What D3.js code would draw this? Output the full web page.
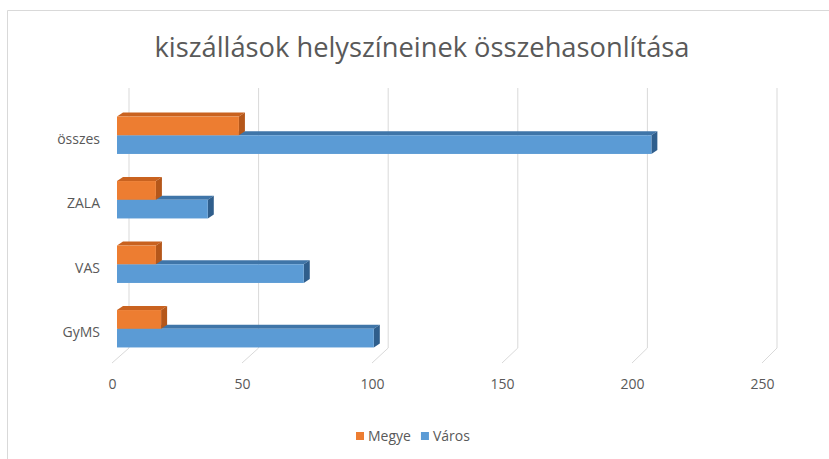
<!DOCTYPE html>
<html>
<head>
<meta charset="utf-8">
<script src="https://cdn.jsdelivr.net/npm/d3@7"></script>
<style>
  html, body { margin: 0; padding: 0; background: #fff; }
  svg { display: block; }
  text { font-family: "Open Sans", "Noto Sans", sans-serif; fill: #595959; }
</style>
</head>
<body>
<svg id="chart" width="829" height="459"></svg>
<script>
const title = "kiszállások helyszíneinek összehasonlítása";
const categories = ["összes", "ZALA", "VAS", "GyMS"];
const seriesNames = ["Megye", "Város"];
const megye = [47, 15, 15, 17];
const varos = [206, 35, 72, 99];
const tickValues = [0, 50, 100, 150, 200, 250];
const colors = {
  Megye: { front: "#ED7D31", top: "#C9621F", side: "#B5571A" },
  Város: { front: "#5B9BD5", top: "#3F75A8", side: "#2F5E8C" }
};

const svg = d3.select("#chart");

// chart border
svg.append("path")
  .attr("d", "M7.5,459 L7.5,10.5 L829,10.5")
  .attr("fill", "none").attr("stroke", "#d9d9d9").attr("stroke-width", 1);

// title
svg.append("text")
  .attr("x", 422).attr("y", 57)
  .attr("text-anchor", "middle")
  .attr("font-size", 27)
  .attr("textLength", 535)
  .attr("lengthAdjust", "spacingAndGlyphs")
  .text(title);

// scales
const xFront = d3.scaleLinear().domain([0, 250]).range([117, 765.5]);
const xBack = d3.scaleLinear().domain([0, 250]).range([129, 777]);
const xLabel = d3.scaleLinear().domain([0, 250]).range([112, 762]);
const y = d3.scaleBand().domain(categories).range([103, 361]).paddingInner(0.42).paddingOuter(0.21);
const ySub = d3.scaleBand().domain(seriesNames).range([0, y.bandwidth()]);

const depthX = 6, depthY = -4;

// gridlines on back wall and floor
const grid = svg.append("g");
tickValues.forEach(v => {
  grid.append("line")
    .attr("x1", xBack(v)).attr("x2", xBack(v))
    .attr("y1", 88).attr("y2", 348)
    .attr("stroke", "#d9d9d9").attr("stroke-width", 1);
  grid.append("line")
    .attr("x1", xBack(v)).attr("y1", 348)
    .attr("x2", xLabel(v)).attr("y2", 363)
    .attr("stroke", "#d9d9d9").attr("stroke-width", 1);
});

// x axis labels
const xAxis = d3.axisBottom(xLabel).tickValues(tickValues).tickSize(0).tickPadding(0);
const gx = svg.append("g").attr("transform", "translate(0,379)").call(xAxis);
gx.select(".domain").remove();
gx.selectAll("text")
  .attr("font-size", 14)
  .attr("font-family", "'Open Sans', sans-serif")
  .attr("fill", "#595959");

// category labels
const yAxis = d3.axisLeft(y).tickSize(0).tickPadding(0);
const gy = svg.append("g").attr("transform", "translate(100,4)").call(yAxis);
gy.select(".domain").remove();
gy.selectAll("text")
  .attr("font-size", 14)
  .attr("font-family", "'Open Sans', sans-serif")
  .attr("fill", "#595959");

// bars (draw Város first so Megye sits above its top face)
const rows = categories.map((c, i) => ({ cat: c, Megye: megye[i], Város: varos[i] }));
const drawOrder = ["Város", "Megye"];
const barsG = svg.append("g");
rows.forEach(r => {
  drawOrder.forEach(s => {
    const x0 = xFront(0), x1 = xFront(r[s]);
    const y0 = y(r.cat) + ySub(s), y1 = y0 + ySub.bandwidth();
    const g = barsG.append("g");
    g.append("path")
      .attr("d", `M${x0},${y0} L${x1},${y0} L${x1 + depthX},${y0 + depthY} L${x0 + depthX},${y0 + depthY} Z`)
      .attr("fill", colors[s].top);
    g.append("path")
      .attr("d", `M${x1},${y0} L${x1 + depthX},${y0 + depthY} L${x1 + depthX},${y1 + depthY} L${x1},${y1} Z`)
      .attr("fill", colors[s].side);
    g.append("rect")
      .attr("x", x0).attr("y", y0)
      .attr("width", x1 - x0).attr("height", y1 - y0)
      .attr("fill", colors[s].front);
  });
});

// legend
const legend = svg.append("g").attr("transform", "translate(356,432)");
let lx = 0;
seriesNames.forEach(s => {
  const g = legend.append("g").attr("transform", `translate(${lx},0)`);
  g.append("rect").attr("x", 0).attr("y", 0).attr("width", 8).attr("height", 8).attr("fill", colors[s].front);
  const t = g.append("text").attr("x", 12).attr("y", 9).attr("font-size", 14).text(s);
  lx += 12 + t.node().getComputedTextLength() + 10;
});
</script>
</body>
</html>
